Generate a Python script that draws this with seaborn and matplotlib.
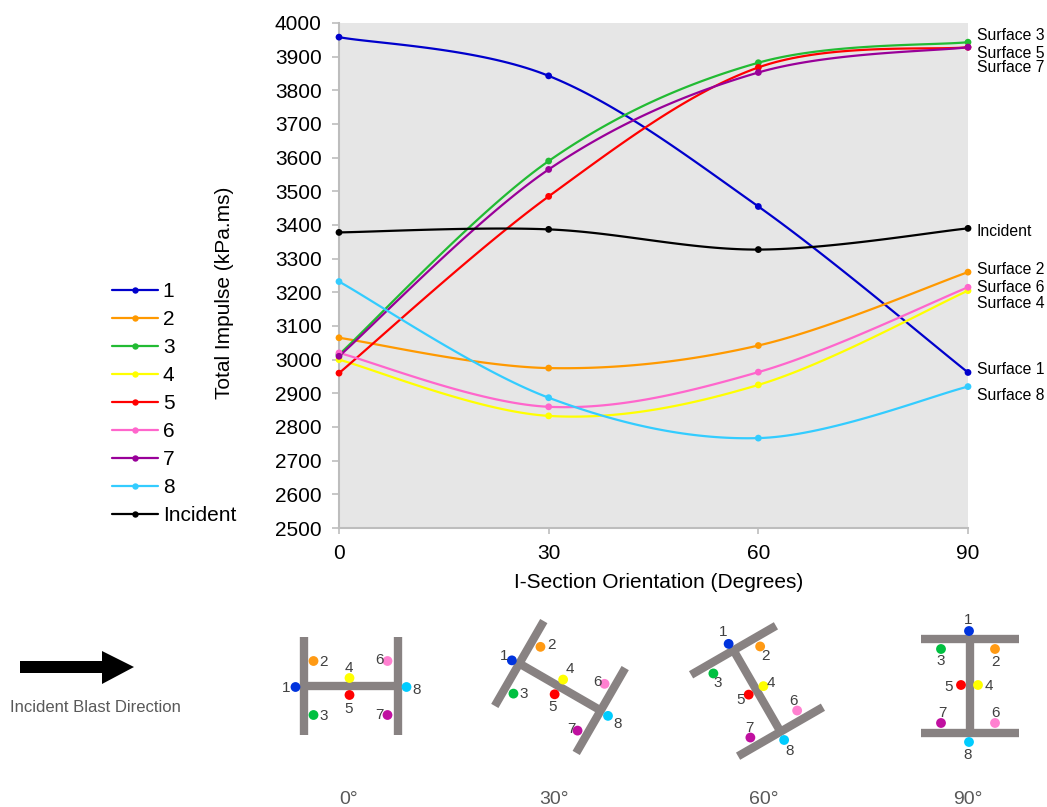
import numpy as np
import pandas as pd
import seaborn as sns
import matplotlib.pyplot as plt
from matplotlib.lines import Line2D
from matplotlib.patches import Polygon

# chart values
angles = [0, 30, 60, 90]
series_names = ['1', '2', '3', '4', '5', '6', '7', '8', 'Incident']
s1 = [3958, 3843, 3455, 2962]
s2 = [3065, 2975, 3042, 3260]
s3 = [3015, 3590, 3882, 3943]
s4 = [3000, 2833, 2925, 3205]
s5 = [2960, 3485, 3868, 3928]
s6 = [3020, 2860, 2963, 3215]
s7 = [3010, 3565, 3853, 3928]
s8 = [3232, 2887, 2767, 2920]
incident = [3378, 3387, 3327, 3390]
series_values = [s1, s2, s3, s4, s5, s6, s7, s8, incident]
line_colors = ['#0000cc', '#ff9900', '#22bb33', '#ffff00', '#ff0000',
               '#ff66cc', '#990099', '#33ccff', '#000000']
dot_colors = ['#0033dd', '#ff9a14', '#00c040', '#ffff00', '#ff0000',
              '#ff80d0', '#c010a0', '#00ccff']
surface_labels = ['Surface 3', 'Surface 5', 'Surface 7', 'Incident', 'Surface 2',
                  'Surface 6', 'Surface 4', 'Surface 1', 'Surface 8']
surface_label_y = [35, 53, 68, 231, 270, 288, 303, 370, 395]

# I-section drawing, in figure pixels. Sensors are given for the 0 degree pose
# and rotated for the others.
sensor_local = [(-55, 1), (-37, -25), (-37, 29), (-1, -8), (-1, 9),
                (37, -25), (37, 29), (56, 1)]
section_angles = [0, 30, 60, 90]
section_centres = [(350.5, 686), (560, 687), (757, 691), (970, 686)]
section_titles = ['0°', '30°', '60°', '90°']
section_title_x = [349, 554, 764, 968]
number_labels = [
    [(286, 688), (323, 662), (324, 716), (349, 668), (349, 709), (379, 660), (379, 715), (417, 690)],
    [(504, 656), (552, 645), (524, 694), (570, 669), (553, 707), (598, 682), (571, 729), (618, 724)],
    [(723, 632), (766, 656), (718, 683), (771, 683), (741, 700), (793, 701), (749, 728), (790, 751)],
    [(968, 620), (996, 662), (941, 661), (989, 686), (949, 687), (996, 713), (942, 713), (968, 755)],
]

W, H = 1047, 807


def smooth(xs, ys, n=40):
    # same kind of bezier smoothing a spreadsheet applies to its lines
    p = np.column_stack([xs, ys]).astype(float)
    ext = np.vstack([p[0], p, p[-1]])
    out = []
    t = np.linspace(0, 1, n)[:, None]
    for i in range(len(p) - 1):
        a, d = ext[i + 1], ext[i + 2]
        b = a + (d - ext[i]) / 6
        c = d - (ext[i + 3] - a) / 6
        out.append((1 - t) ** 3 * a + 3 * (1 - t) ** 2 * t * b + 3 * (1 - t) * t ** 2 * c + t ** 3 * d)
    return np.vstack(out)


def rotate(x, y, deg, centre):
    r = np.radians(deg)
    return (centre[0] + x * np.cos(r) - y * np.sin(r),
            centre[1] + x * np.sin(r) + y * np.cos(r))


sns.set_theme(style='white')
plt.rcParams['font.family'] = ['Liberation Sans', 'DejaVu Sans']

fig = plt.figure(figsize=(W / 100, H / 100), dpi=100)
ax = fig.add_axes([339 / W, 1 - 528 / H, 629 / W, 505 / H])
ax.set_facecolor('#e6e6e6')

frames = []
for name, vals in zip(series_names, series_values):
    xy = smooth(angles, vals)
    frames.append(pd.DataFrame({'angle': xy[:, 0], 'impulse': xy[:, 1], 'series': name}))
curves = pd.concat(frames, ignore_index=True)
points = pd.DataFrame({
    'angle': angles * len(series_names),
    'impulse': np.concatenate(series_values),
    'series': np.repeat(series_names, len(angles)),
})
palette = dict(zip(series_names, line_colors))

sns.lineplot(data=curves, x='angle', y='impulse', hue='series', hue_order=series_names,
             palette=palette, estimator=None, sort=False, linewidth=1.6, legend=False,
             clip_on=False, zorder=3, ax=ax)
sns.scatterplot(data=points, x='angle', y='impulse', hue='series', hue_order=series_names,
                palette=palette, s=24, linewidth=0, legend=False, clip_on=False, zorder=4, ax=ax)

ax.set_xlim(0, 90)
ax.set_ylim(2500, 4000)
ax.set_xticks(angles)
ax.set_yticks(np.arange(2500, 4001, 100))
ax.tick_params(axis='y', direction='out', length=5, width=1.2, color='#bdbdbd',
               labelsize=15, labelcolor='black', left=True, pad=7.5)
ax.tick_params(axis='x', direction='out', length=4, width=1.2, color='#bdbdbd',
               labelsize=15, labelcolor='black', bottom=True, pad=7.5)
sns.despine(ax=ax)
for side in ['left', 'bottom']:
    ax.spines[side].set_color('#bdbdbd')
    ax.spines[side].set_linewidth(1.5)
ax.set_xlabel('')
ax.set_ylabel('')

handles = [Line2D([], [], color=c, lw=1.6, marker='o', ms=4.6, mew=0) for c in line_colors]
fig.legend(handles, series_names, loc='upper left', bbox_to_anchor=(112 / W, 1 - 282 / H),
           frameon=False, fontsize=15, borderpad=0, borderaxespad=0, handlelength=2.2,
           handletextpad=0.24, labelspacing=0.432, labelcolor='black')

# overlay in figure pixels for all the free text and the section sketches
ov = fig.add_axes([0, 0, 1, 1], facecolor='none')
ov.set_xlim(0, W)
ov.set_ylim(H, 0)
ov.axis('off')

ov.text(224, 293, 'Total Impulse (kPa.ms)', rotation=90, ha='center', va='center',
        fontsize=15, color='black')
ov.text(659, 582, 'I-Section Orientation (Degrees)', ha='center', va='center',
        fontsize=15, color='black')
for label, y in zip(surface_labels, surface_label_y):
    ov.text(977, y, label, ha='left', va='center', fontsize=11.3, color='black')

ov.add_patch(Polygon([(20, 661), (102, 661), (102, 651), (134, 667), (102, 684),
                      (102, 673), (20, 673)], closed=True, color='black', lw=0))
ov.text(10, 708, 'Incident Blast Direction', ha='left', va='center', fontsize=12, color='#595959')

for deg, centre, title, tx, labels in zip(section_angles, section_centres, section_titles,
                                          section_title_x, number_labels):
    # web + two flanges
    for (x0, y0), (x1, y1) in [((-47, 0), (47, 0)), ((-47, -49), (-47, 49)), ((47, -49), (47, 49))]:
        a = rotate(x0, y0, deg, centre)
        b = rotate(x1, y1, deg, centre)
        ov.plot([a[0], b[0]], [a[1], b[1]], color='#888282', lw=6, solid_capstyle='butt', zorder=2)
    sx, sy = zip(*[rotate(x, y, deg, centre) for x, y in sensor_local])
    sns.scatterplot(x=list(sx), y=list(sy), hue=series_names[:8], palette=dict(zip(series_names, dot_colors)),
                    s=50, linewidth=0, legend=False, zorder=3, ax=ov)
    for num, (lx, ly) in zip(series_names[:8], labels):
        ov.text(lx, ly, num, ha='center', va='center', fontsize=11, color='#404040')
    ov.text(tx, 800, title, ha='center', va='center', fontsize=14, color='#595959')
ov.set_xlim(0, W)
ov.set_ylim(H, 0)
ov.set_xlabel('')
ov.set_ylabel('')

fig.savefig('out.png', dpi=100)
